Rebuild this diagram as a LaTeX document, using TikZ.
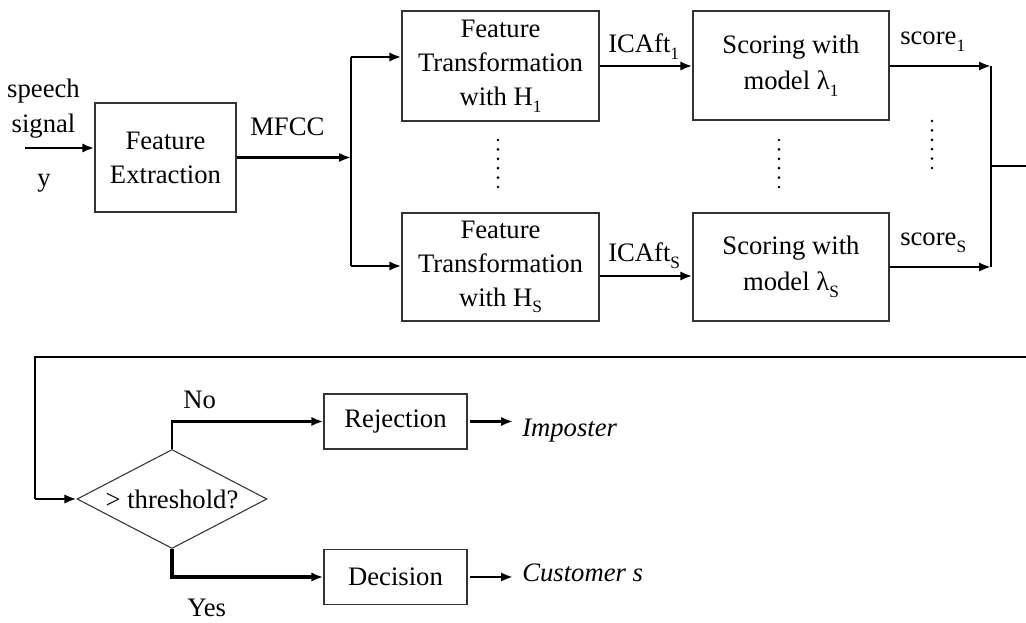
\documentclass[tikz,border=0pt]{standalone}
\usepackage{fontspec}
\setmainfont{Liberation Serif}
\usetikzlibrary{shapes.geometric,arrows.meta}
% lowered, smaller index for H_1, lambda_S, score_1 ...
\newcommand\subx[1]{\raisebox{-5pt}{\fontsize{13}{13}\selectfont #1}}

\begin{document}
\begin{tikzpicture}[x=0.75pt,y=-0.75pt,
  every node/.style={font=\fontsize{20}{25.5}\selectfont, inner sep=0pt},
  blk/.style={draw=black!80, line width=1pt, align=center},
  arr/.style={line width=2.2pt, -{Latex[length=9pt,width=7pt]}},
  wire/.style={line width=1.6pt},
  fine/.style={line width=1pt},
  lbl/.style={anchor=base west},
  ital/.style={anchor=base west, font=\fontsize{20}{25.5}\selectfont\itshape}]
\useasboundingbox (0,0) rectangle (1026,623);

% ---------- processing chain ----------
\node[blk, minimum width=105.75pt, minimum height=81.75pt] (fe) at (165.5,157.5) {Feature\\Extraction};
\node[blk, minimum width=147.75pt, minimum height=82.5pt] (ft1) at (500.5,66) {Feature\\Transformation\\with H\subx{1}};
\node[blk, minimum width=147.75pt, minimum height=81pt] (fts) at (500.5,267) {Feature\\Transformation\\with H\subx{S}};
\node[blk, minimum width=147pt, minimum height=81.75pt, font=\fontsize{20}{27}\selectfont] (sc1) at (791,65.5) {Scoring with\\model λ\subx{1}};
\node[blk, minimum width=147pt, minimum height=81pt, font=\fontsize{20}{27}\selectfont] (scs) at (791,267) {Scoring with\\model λ\subx{S}};

% input
\node[anchor=base] (sp) at (43.5,98) {speech};
\node[anchor=base] (sg) at (43.5,133) {signal};
\node[anchor=base] (yy) at (44,187) {y};
\coordinate (in) at (25,148);
\draw[arr] (in) -- (in -| fe.west);

% MFCC split
\node[lbl] (mfcc) at (250,136) {MFCC};
\coordinate (split) at (351,157.5);
\coordinate (sTop) at (351,57);
\coordinate (sBot) at (351,266);
\draw[arr] (fe.east) -- (split);
\draw[wire] (sTop) -- (sBot);
\draw[arr] (sTop) -- (sTop -| ft1.west);
\draw[arr] (sBot) -- (sBot -| fts.west);

% transformed features
\node[lbl] (ica1) at (608,53) {ICAft\subx{1}};
\node[lbl] (icas) at (608,262) {ICAft\subx{S}};
\draw[arr] (ft1.east) -- (ft1.east -| sc1.west);
\draw[arr] ([yshift=-6.75pt]fts.east) -- ([yshift=-6.75pt]fts.east -| scs.west);

% scores merge
\node[lbl] (s1) at (900,45) {score\subx{1}};
\node[lbl] (ss) at (900,246) {score\subx{S}};
\coordinate (mTop) at (991,66);
\coordinate (mBot) at (991,267);
\coordinate (mMid) at (991,166);
\coordinate (edgeA) at (1026,166);
\draw[arr] (sc1.east |- mTop) -- (mTop);
\draw[arr] (scs.east) -- (mBot);
\draw[wire] (mTop) -- (mBot);
\draw[fine] (mMid) -- (edgeA);

% ellipsis dots
\foreach \k in {0,...,5} {
  \fill (498,{140+9.4*\k}) circle (1.1pt);
  \fill (779,{140+9.4*\k}) circle (1.1pt);
  \fill (932,{121+9.4*\k}) circle (1.1pt);
}

% ---------- decision stage ----------
\node[draw=black!80, line width=0.8pt, diamond, aspect=1.92,
      minimum width=142.5pt, minimum height=74.25pt] (dia) at (172,499) {> threshold?};
\node[blk, minimum width=107.25pt, minimum height=41.25pt] (rej) at (395.5,421.5) {Rejection};
\node[blk, minimum width=107.25pt, minimum height=41.25pt] (dec) at (395.5,577) {Decision};

\coordinate (edgeB) at (1026,357);
\coordinate (fbL) at (35,357);
\draw[fine] (edgeB) -- (fbL) -- (fbL |- dia.west);
\draw[arr] (fbL |- dia.west) -- (dia.west);

\node[lbl] (no) at (183,409) {No};
\node[lbl] (yes) at (187,617) {Yes};
\draw[arr, line width=1.8pt] (dia.north) |- (rej.west);
\draw[arr, line width=2.4pt] (dia.south) |- (dec.west);

\node[ital] (imp) at (522,437) {Imposter};
\node[ital] (cus) at (522,582) {Customer s};
\coordinate (impTip) at (513,421.5);
\coordinate (cusTip) at (513,577);
\draw[arr] ([xshift=2pt]rej.east) -- (impTip);
\draw[arr] ([xshift=2pt]dec.east) -- (cusTip);
\end{tikzpicture}
\end{document}
